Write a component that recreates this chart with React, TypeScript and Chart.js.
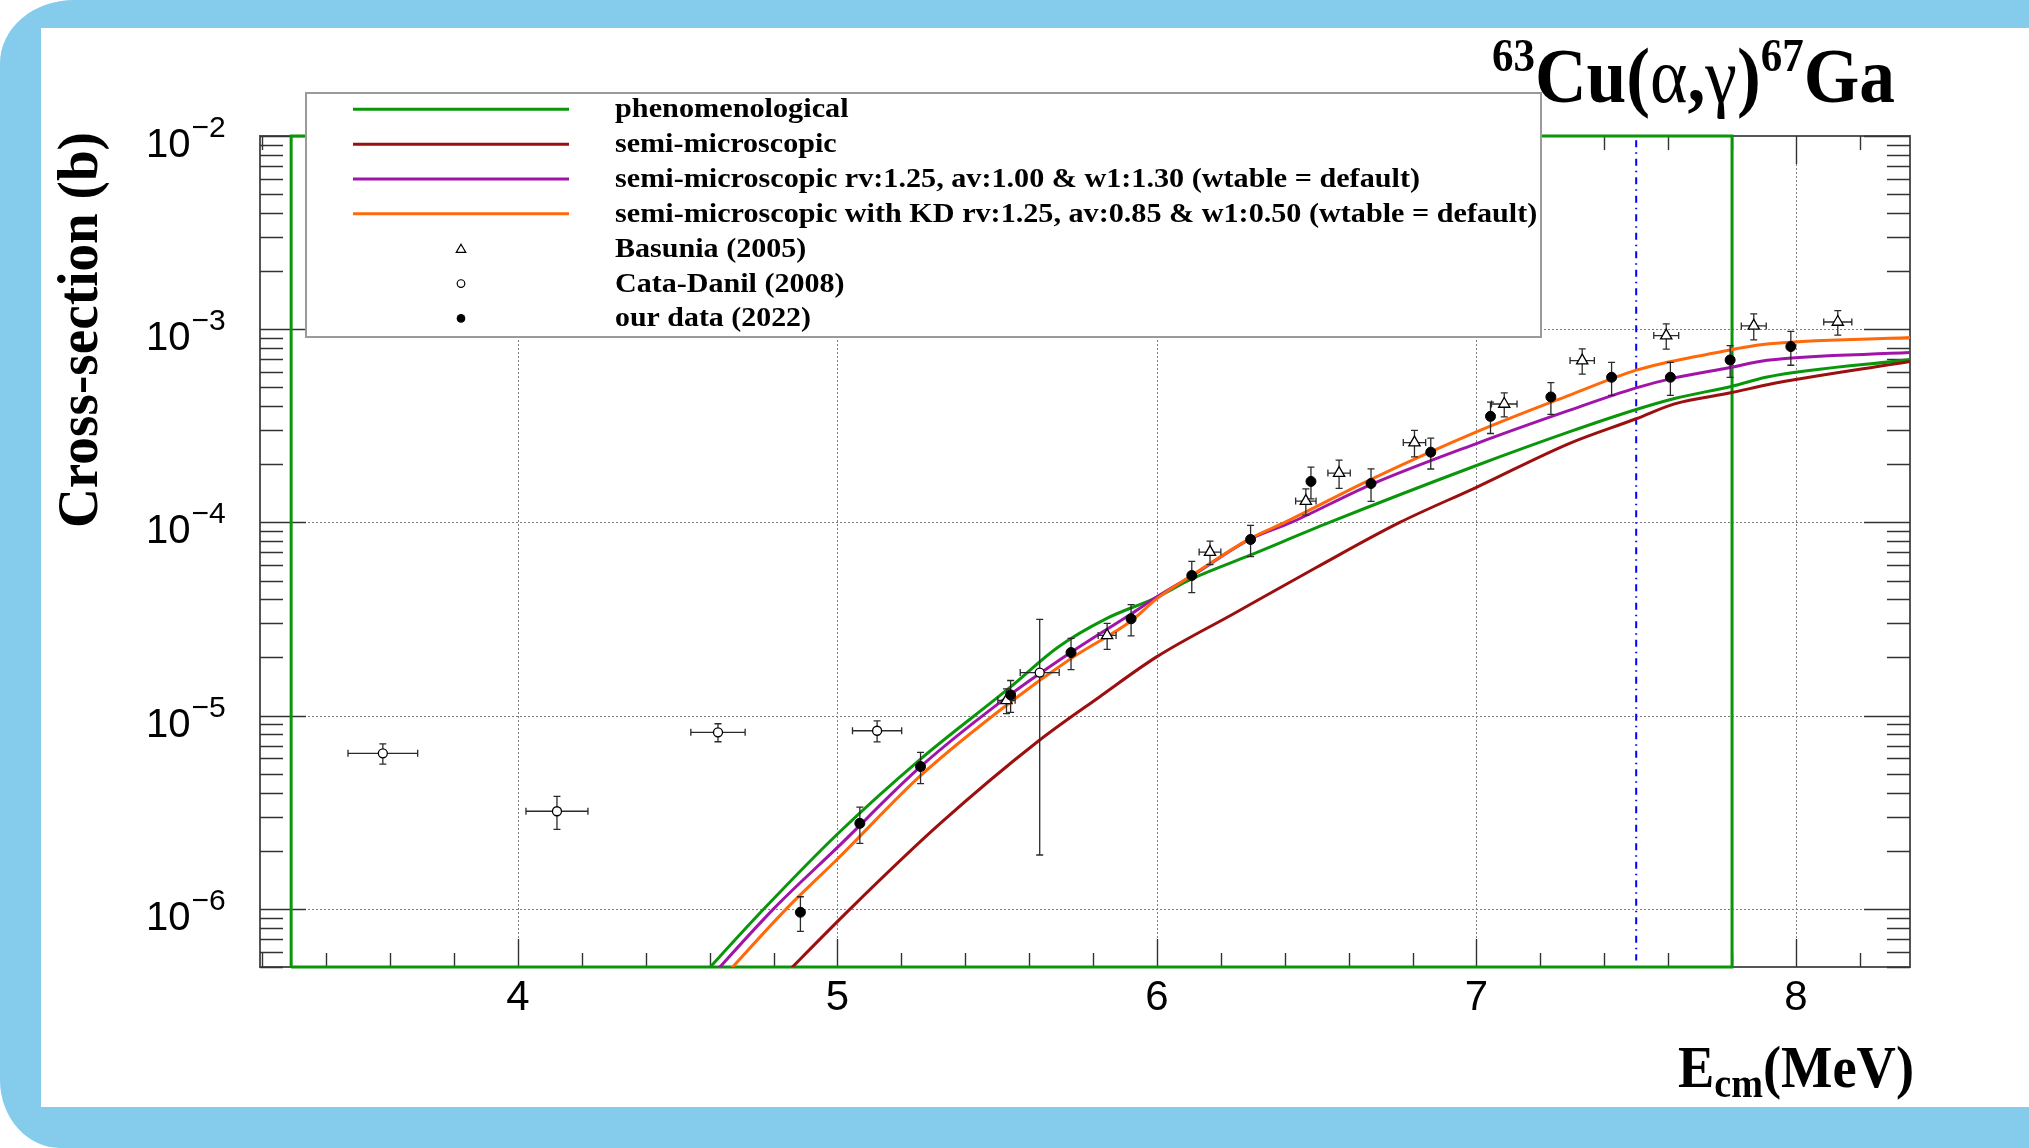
import React, { useEffect, useRef } from "react";
import { Chart, registerables } from "chart.js";

Chart.register(...registerables);

const SERIF = '"Liberation Serif", "Times New Roman", serif';
const SANS = '"Liberation Sans", Arial, Helvetica, sans-serif';

// ---------- axes ----------
const X_MIN = 3.1925;
const X_MAX = 8.357;
const Y_MIN = 5e-7;
const Y_MAX = 1e-2;
const X_MAJOR_TICKS = [4, 5, 6, 7, 8];
const X_TICK_LABELS = ["4", "5", "6", "7", "8"];
const Y_DECADES = [-6, -5, -4, -3, -2];
const Y_TICK_BASE = "10";
const Y_TICK_EXPONENTS = ["\u22126", "\u22125", "\u22124", "\u22123", "\u22122"];

// ---------- texts ----------
const LEGEND_LABELS = [
  "phenomenological",
  "semi-microscopic",
  "semi-microscopic rv:1.25, av:1.00 & w1:1.30 (wtable = default)",
  "semi-microscopic with KD rv:1.25, av:0.85 & w1:0.50 (wtable = default)",
  "Basunia (2005)",
  "Cata-Danil (2008)",
  "our data (2022)",
];
const Y_TITLE = "Cross-section (b)";

// ---------- model curves (E in MeV, sigma in barn) ----------
const phenE = [4.55, 4.77, 5.0, 5.26, 5.54, 5.69, 5.84, 6.0, 6.11, 6.29, 6.54, 7.0, 7.29, 7.5, 7.62, 7.8, 7.91, 8.36];
const phenS = [4.03e-7, 1.0e-6, 2.44e-6, 5.96e-6, 1.4e-5, 2.26e-5, 3.17e-5, 4.1e-5, 5.11e-5, 6.75e-5, 1.0e-4, 1.97e-4, 2.94e-4, 3.84e-4, 4.38e-4, 5.07e-4, 5.66e-4, 6.97e-4];

const semiE = [4.8, 5.04, 5.32, 5.63, 5.82, 6.0, 6.24, 6.5, 6.76, 7.0, 7.29, 7.5, 7.62, 7.8, 7.91, 8.36];
const semiS = [3.98e-7, 1.0e-6, 2.75e-6, 7.41e-6, 1.25e-5, 2.02e-5, 3.37e-5, 5.86e-5, 1.0e-4, 1.52e-4, 2.56e-4, 3.44e-4, 4.11e-4, 4.7e-4, 5.16e-4, 6.82e-4];

const semiRvE = [4.58, 4.8, 5.0, 5.26, 5.54, 5.73, 5.92, 6.0, 6.11, 6.29, 6.42, 6.67, 7.0, 7.29, 7.5, 7.62, 7.79, 7.91, 8.36];
const semiRvS = [4.02e-7, 1.0e-6, 2.08e-6, 5.44e-6, 1.28e-5, 2.12e-5, 3.37e-5, 4.12e-5, 5.3e-5, 8.17e-5, 1.0e-4, 1.57e-4, 2.56e-4, 3.8e-4, 4.97e-4, 5.6e-4, 6.32e-4, 6.9e-4, 7.57e-4];

const semiKdE = [4.62, 4.84, 5.0, 5.26, 5.54, 5.73, 5.92, 6.0, 6.11, 6.29, 6.4, 6.67, 7.0, 7.29, 7.5, 7.59, 7.79, 7.89, 8.36];
const semiKdS = [4.02e-7, 1.0e-6, 1.81e-6, 4.89e-6, 1.17e-5, 1.97e-5, 3.1e-5, 4.03e-5, 5.33e-5, 8.22e-5, 1.0e-4, 1.67e-4, 2.94e-4, 4.55e-4, 6.14e-4, 6.7e-4, 7.78e-4, 8.32e-4, 9.06e-4];

// green box drawn with the phenomenological graph
const boxE = [3.29, 3.29, 7.8, 7.8, 3.29];
const boxS = [5e-7, 1e-2, 1e-2, 5e-7, 5e-7];

// blue dash-dotted marker line
const markE = [7.5, 7.5];
const markS = [9.5e-3, 5.4e-7];

// ---------- measurements ----------
const basE = [5.529, 5.844, 6.166, 6.466, 6.57, 6.806, 7.087, 7.331, 7.594, 7.868, 8.131];
const basS = [1.2e-5, 2.6e-5, 7.02e-5, 1.29e-4, 1.8e-4, 2.59e-4, 4.1e-4, 6.88e-4, 9.27e-4, 1.04e-3, 1.09e-3];
const basDS = [1.75e-6, 4.0e-6, 9.8e-6, 2.0e-5, 3.0e-5, 4.05e-5, 5.8e-5, 1.03e-4, 1.38e-4, 1.6e-4, 1.58e-4];
const basDE = [0.027, 0.028, 0.034, 0.032, 0.035, 0.035, 0.04, 0.038, 0.039, 0.039, 0.044];

const cataE = [3.577, 4.122, 4.626, 5.124, 5.633];
const cataS = [6.38e-6, 3.2e-6, 8.2e-6, 8.35e-6, 1.67e-5];
const cataDS = [7.7e-7, 6.2e-7, 8.75e-7, 1.04e-6, 1.48e-5];
const cataDE = [0.109, 0.097, 0.085, 0.077, 0.061];

const ourE = [4.884, 5.07, 5.26, 5.542, 5.731, 5.919, 6.109, 6.293, 6.482, 6.67, 6.857, 7.044, 7.233, 7.423, 7.607, 7.794, 7.984];
const ourS = [9.6e-7, 2.77e-6, 5.45e-6, 1.28e-5, 2.12e-5, 3.17e-5, 5.31e-5, 8.16e-5, 1.63e-4, 1.59e-4, 2.31e-4, 3.54e-4, 4.46e-4, 5.64e-4, 5.64e-4, 6.93e-4, 8.13e-4];
const ourDS = [1.95e-7, 5.9e-7, 1.0e-6, 2.4e-6, 3.9e-6, 5.8e-6, 9.8e-6, 1.5e-5, 3.05e-5, 3.05e-5, 4.2e-5, 6.55e-5, 8.35e-5, 1.1e-4, 1.1e-4, 1.3e-4, 1.62e-4];

// ---------- colours ----------
const C_GREEN = "rgb(10,150,10)";
const C_DARKRED = "rgb(155,15,15)";
const C_PURPLE = "rgb(160,20,170)";
const C_ORANGE = "rgb(255,105,10)";
const C_BLUE = "rgb(0,0,255)";
const C_BG_BLUE = "rgb(133,204,236)";

const pts = (xs: number[], ys: number[]) => xs.map((x, i) => ({ x, y: ys[i] }));

type Run = { t: string; font: string; dy: number };

function drawRuns(ctx: CanvasRenderingContext2D, runs: Run[], x: number, y: number, targetW: number) {
  let nat = 0;
  const widths = runs.map((r) => {
    ctx.font = r.font;
    const w = ctx.measureText(r.t).width;
    nat += w;
    return w;
  });
  const f = targetW / nat;
  ctx.save();
  ctx.translate(x, y);
  ctx.scale(f, 1);
  ctx.textAlign = "left";
  ctx.textBaseline = "alphabetic";
  let cx = 0;
  runs.forEach((r, i) => {
    ctx.font = r.font;
    ctx.fillText(r.t, cx, r.dy);
    cx += widths[i];
  });
  ctx.restore();
}

function drawTriangle(ctx: CanvasRenderingContext2D, x: number, y: number, r: number) {
  ctx.beginPath();
  ctx.moveTo(x, y - r);
  ctx.lineTo(x + r * 0.866, y + r * 0.5);
  ctx.lineTo(x - r * 0.866, y + r * 0.5);
  ctx.closePath();
  ctx.fillStyle = "#fff";
  ctx.fill();
  ctx.stroke();
}

const rootPlugin = {
  id: "rootStyle",
  beforeDatasetsDraw(chart: any) {
    const ctx: CanvasRenderingContext2D = chart.ctx;
    const xs = chart.scales.x;
    const ys = chart.scales.y;
    const { left, right, top, bottom } = chart.chartArea;
    ctx.save();
    // grid
    ctx.strokeStyle = "#808080";
    ctx.lineWidth = 1;
    ctx.setLineDash([2, 2]);
    X_MAJOR_TICKS.forEach((v) => {
      const p = Math.round(xs.getPixelForValue(v)) + 0.5;
      ctx.beginPath();
      ctx.moveTo(p, top);
      ctx.lineTo(p, bottom);
      ctx.stroke();
    });
    Y_DECADES.forEach((e) => {
      if (e >= -2) return;
      const p = Math.round(ys.getPixelForValue(Math.pow(10, e))) + 0.5;
      ctx.beginPath();
      ctx.moveTo(left, p);
      ctx.lineTo(right, p);
      ctx.stroke();
    });
    ctx.setLineDash([]);
    // frame
    ctx.strokeStyle = "#555";
    ctx.lineWidth = 2;
    ctx.strokeRect(left, top, right - left, bottom - top);
    // x ticks
    ctx.strokeStyle = "#333";
    ctx.lineWidth = 1.4;
    for (let k = 16; k <= 41; k++) {
      const v = k / 5;
      if (v < X_MIN || v > X_MAX) continue;
      const len = k % 5 === 0 ? 28 : 14;
      const p = Math.round(xs.getPixelForValue(v)) + 0.5;
      ctx.beginPath();
      ctx.moveTo(p, bottom);
      ctx.lineTo(p, bottom - len);
      ctx.moveTo(p, top);
      ctx.lineTo(p, top + len);
      ctx.stroke();
    }
    // y ticks
    for (let e = -7; e <= -2; e++) {
      for (let m = 1; m <= 9; m++) {
        const v = m * Math.pow(10, e);
        if (v < Y_MIN * 0.999 || v > Y_MAX * 1.001) continue;
        const len = m === 1 ? 46 : 23;
        const p = Math.round(ys.getPixelForValue(v)) + 0.5;
        ctx.beginPath();
        ctx.moveTo(left, p);
        ctx.lineTo(left + len, p);
        ctx.moveTo(right, p);
        ctx.lineTo(right - len, p);
        ctx.stroke();
      }
    }
    ctx.restore();
  },
  beforeDatasetDraw(chart: any, args: any) {
    const ds = chart.data.datasets[args.index];
    if (!ds.errY) return;
    const ctx: CanvasRenderingContext2D = chart.ctx;
    const xs = chart.scales.x;
    const ys = chart.scales.y;
    ctx.save();
    ctx.strokeStyle = "#2a2a2a";
    ctx.lineWidth = 1.3;
    ds.data.forEach((d: any, i: number) => {
      const px = xs.getPixelForValue(d.x);
      const py = ys.getPixelForValue(d.y);
      const lo = Math.max(d.y - ds.errY[i], Y_MIN * 0.5);
      const yLo = ys.getPixelForValue(lo);
      const yHi = ys.getPixelForValue(d.y + ds.errY[i]);
      ctx.beginPath();
      ctx.moveTo(px, yLo);
      ctx.lineTo(px, yHi);
      ctx.moveTo(px - 3.5, yLo);
      ctx.lineTo(px + 3.5, yLo);
      ctx.moveTo(px - 3.5, yHi);
      ctx.lineTo(px + 3.5, yHi);
      if (ds.errX) {
        const xLo = xs.getPixelForValue(d.x - ds.errX[i]);
        const xHi = xs.getPixelForValue(d.x + ds.errX[i]);
        ctx.moveTo(xLo, py);
        ctx.lineTo(xHi, py);
        ctx.moveTo(xLo, py - 3.5);
        ctx.lineTo(xLo, py + 3.5);
        ctx.moveTo(xHi, py - 3.5);
        ctx.lineTo(xHi, py + 3.5);
      }
      ctx.stroke();
    });
    ctx.restore();
  },
  afterDatasetsDraw(chart: any) {
    const ctx: CanvasRenderingContext2D = chart.ctx;
    ctx.save();
    // legend box
    const bx = 306, by = 93, bw = 1541 - 306, bh = 337 - 93;
    ctx.fillStyle = "#fff";
    ctx.fillRect(bx, by, bw, bh);
    ctx.strokeStyle = "#9a9a9a";
    ctx.lineWidth = 2;
    ctx.strokeRect(bx, by, bw, bh);
    const rowY = (i: number) => 109.3 + i * 34.85;
    const lineColors = [C_GREEN, C_DARKRED, C_PURPLE, C_ORANGE];
    lineColors.forEach((c, i) => {
      ctx.strokeStyle = c;
      ctx.lineWidth = 3;
      ctx.beginPath();
      ctx.moveTo(353, rowY(i));
      ctx.lineTo(569, rowY(i));
      ctx.stroke();
    });
    const mx = 461;
    ctx.strokeStyle = "#000";
    ctx.lineWidth = 1.2;
    drawTriangle(ctx, mx, rowY(4) + 1, 5.5);
    ctx.beginPath();
    ctx.arc(mx, rowY(5), 3.8, 0, Math.PI * 2);
    ctx.fillStyle = "#fff";
    ctx.fill();
    ctx.stroke();
    ctx.beginPath();
    ctx.arc(mx, rowY(6), 4.3, 0, Math.PI * 2);
    ctx.fillStyle = "#000";
    ctx.fill();
    // legend text
    const widths = [233.6, 221.6, 805, 922.3, 191.3, 229.6, 196];
    ctx.fillStyle = "#000";
    LEGEND_LABELS.forEach((t, i) => {
      drawRuns(ctx, [{ t, font: `bold 28px ${SERIF}`, dy: 0 }], 615, rowY(i) + 8, widths[i]);
    });
    ctx.restore();
  },
  afterDraw(chart: any) {
    const ctx: CanvasRenderingContext2D = chart.ctx;
    const xs = chart.scales.x;
    const ys = chart.scales.y;
    ctx.save();
    ctx.fillStyle = "#000";
    // x tick labels
    ctx.font = `42px ${SANS}`;
    ctx.textAlign = "center";
    ctx.textBaseline = "alphabetic";
    X_MAJOR_TICKS.forEach((v, i) => {
      ctx.fillText(X_TICK_LABELS[i], xs.getPixelForValue(v), 1010);
    });
    // y tick labels
    Y_DECADES.forEach((e, i) => {
      const p = ys.getPixelForValue(Math.pow(10, e));
      ctx.textAlign = "left";
      ctx.font = `40px ${SANS}`;
      const w = ctx.measureText(Y_TICK_BASE).width;
      ctx.fillText(Y_TICK_BASE, 146, p + 21);
      ctx.font = `30px ${SANS}`;
      ctx.fillText(Y_TICK_EXPONENTS[i], 146 + w + 1, p + 1);
    });
    // title
    drawRuns(
      ctx,
      [
        { t: "63", font: `bold 47px ${SERIF}`, dy: -31 },
        { t: "Cu(", font: `bold 78px ${SERIF}`, dy: 0 },
        { t: "\u03B1", font: `78px ${SERIF}`, dy: 0 },
        { t: ",", font: `bold 78px ${SERIF}`, dy: 0 },
        { t: "\u03B3", font: `78px ${SERIF}`, dy: 0 },
        { t: ")", font: `bold 78px ${SERIF}`, dy: 0 },
        { t: "67", font: `bold 47px ${SERIF}`, dy: -31 },
        { t: "Ga", font: `bold 78px ${SERIF}`, dy: 0 },
      ],
      1492,
      101.5,
      403
    );
    // x title
    drawRuns(
      ctx,
      [
        { t: "E", font: `bold 60px ${SERIF}`, dy: 0 },
        { t: "cm", font: `bold 42px ${SERIF}`, dy: 10 },
        { t: "(MeV)", font: `bold 60px ${SERIF}`, dy: 0 },
      ],
      1678,
      1087,
      236
    );
    // y title
    ctx.save();
    ctx.translate(97, 330);
    ctx.rotate(-Math.PI / 2);
    ctx.font = `bold 56px ${SERIF}`;
    const tw = ctx.measureText(Y_TITLE).width;
    const f = 396 / tw;
    ctx.scale(f, 1);
    ctx.textAlign = "center";
    ctx.textBaseline = "alphabetic";
    ctx.fillText(Y_TITLE, 0, 0);
    ctx.restore();
    ctx.restore();
  },
};

export default function App() {
  const ref = useRef<HTMLCanvasElement | null>(null);

  useEffect(() => {
    document.body.style.margin = "0";
    document.body.style.overflow = "hidden";
    const canvas = ref.current;
    if (!canvas) return;
    const lineDs = (label: string, xs: number[], ys: number[], color: string, order: number) => ({
      label,
      data: pts(xs, ys),
      showLine: true,
      borderColor: color,
      backgroundColor: color,
      borderWidth: 3,
      pointRadius: 0,
      cubicInterpolationMode: "monotone",
      order,
    });
    const chart = new Chart(canvas, {
      type: "scatter",
      data: {
        datasets: [
          {
            label: "our data (2022)",
            data: pts(ourE, ourS),
            showLine: false,
            pointStyle: "circle",
            pointRadius: 5,
            pointBackgroundColor: "#000",
            pointBorderColor: "#000",
            pointBorderWidth: 1,
            errY: ourDS,
            order: 0,
          } as any,
          {
            label: "Cata-Danil (2008)",
            data: pts(cataE, cataS),
            showLine: false,
            pointStyle: "circle",
            pointRadius: 4.5,
            pointBackgroundColor: "#fff",
            pointBorderColor: "#000",
            pointBorderWidth: 1.3,
            errY: cataDS,
            errX: cataDE,
            order: 1,
          } as any,
          {
            label: "Basunia (2005)",
            data: pts(basE, basS),
            showLine: false,
            pointStyle: "triangle",
            pointRadius: 6.5,
            pointBackgroundColor: "#fff",
            pointBorderColor: "#000",
            pointBorderWidth: 1.3,
            errY: basDS,
            errX: basDE,
            order: 2,
          } as any,
          lineDs("semi-microscopic with KD", semiKdE, semiKdS, C_ORANGE, 10) as any,
          lineDs("semi-microscopic rv", semiRvE, semiRvS, C_PURPLE, 11) as any,
          lineDs("semi-microscopic", semiE, semiS, C_DARKRED, 12) as any,
          lineDs("phenomenological", phenE, phenS, C_GREEN, 13) as any,
          { ...lineDs("box", boxE, boxS, C_GREEN, 14), cubicInterpolationMode: "default", tension: 0, clip: 6 } as any,
          {
            ...lineDs("marker", markE, markS, C_BLUE, 15),
            cubicInterpolationMode: "default",
            tension: 0,
            borderWidth: 2,
            borderDash: [7, 5, 1.5, 5],
          } as any,
        ],
      },
      options: {
        responsive: false,
        animation: false,
        devicePixelRatio: 1,
        layout: { padding: { left: 260, top: 136, right: 2029 - 1910, bottom: 1148 - 967 } },
        plugins: { legend: { display: false }, tooltip: { enabled: false }, title: { display: false } },
        events: [],
        scales: {
          x: { type: "linear", min: X_MIN, max: X_MAX, display: false },
          y: { type: "logarithmic", min: Y_MIN, max: Y_MAX, display: false },
        },
      } as any,
      plugins: [rootPlugin],
    });
    return () => chart.destroy();
  }, []);

  return (
    <div style={{ position: "fixed", left: 0, top: 0, width: "100vw", height: "100vh", overflow: "hidden", background: "#fff" }}>
      <div
        style={{
          position: "absolute",
          left: 0,
          top: 0,
          width: 3000,
          height: 1148,
          background: C_BG_BLUE,
          borderTopLeftRadius: "74px 63px",
          borderBottomLeftRadius: "60px 68px",
        }}
      />
      <div style={{ position: "absolute", left: 41, top: 28, width: 3000, height: 1107 - 28, background: "#fff" }} />
      <canvas ref={ref} width={2029} height={1148} style={{ position: "absolute", left: 0, top: 0, width: 2029, height: 1148 }} />
    </div>
  );
}
